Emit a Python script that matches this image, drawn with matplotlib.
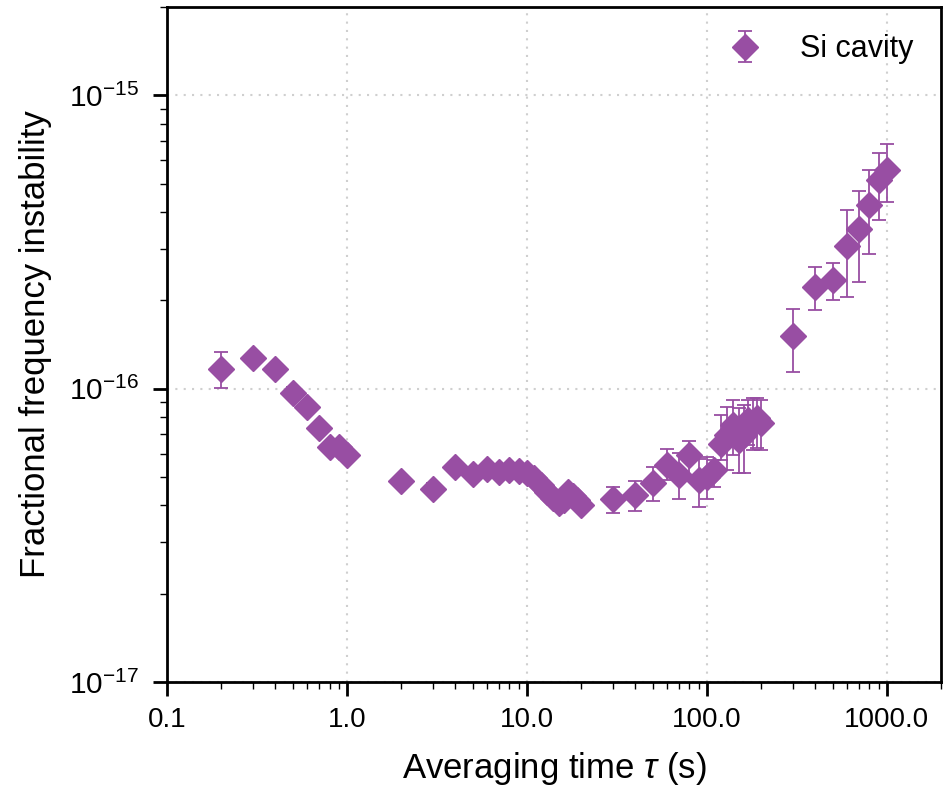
import numpy as np
import matplotlib
matplotlib.use("Agg")
import matplotlib.pyplot as plt
from matplotlib.ticker import LogLocator, FixedLocator, FixedFormatter, NullFormatter

plt.rcParams['font.family'] = ['Liberation Sans', 'DejaVu Sans']
plt.rcParams['mathtext.fontset'] = 'custom'
plt.rcParams['mathtext.rm'] = 'Liberation Sans'
plt.rcParams['mathtext.it'] = 'Liberation Sans:italic'

# averaging time (s)
tau = [0.2, 0.3, 0.4, 0.5, 0.6, 0.7, 0.8, 0.9, 1.0,
       2, 3, 4, 5, 6, 7, 8, 9, 10, 11, 12, 13, 14, 15, 16, 17, 18, 19, 20,
       30, 40, 50, 60, 70, 80, 90, 100, 110, 120, 130, 140, 150, 160, 170, 180, 190, 200,
       300, 400, 500, 600, 700, 800, 900, 1000]

# fractional frequency instability, units of 1e-17
adev = [11.65, 12.7, 11.65, 9.68, 8.63, 7.32, 6.34, 6.3, 5.94,
        4.85, 4.55, 5.41, 5.1, 5.31, 5.2, 5.28, 5.24, 5.15, 4.95, 4.69, 4.44, 4.24, 4.07, 4.17, 4.44, 4.3, 4.17, 4.01,
        4.19, 4.34, 4.75, 5.49, 5.07, 5.93, 4.88, 5.0, 5.28, 6.5, 6.94, 7.51, 6.68, 6.94, 7.81, 7.63, 7.94, 7.61,
        15.1, 22.2, 23.4, 30.6, 34.9, 42.2, 51.3, 55.5]

# error bar lower / upper ends, units of 1e-17
adev_lo = [10.04, 12.2, 11.2, 9.3, 8.3, 7.0, 6.1, 6.05, 5.7,
           4.65, 4.35, 5.2, 4.9, 5.1, 5.0, 5.05, 5.0, 4.95, 4.75, 4.5, 4.25, 4.05, 3.9, 4.0, 4.25, 4.1, 4.0, 3.85,
           3.76, 3.83, 4.13, 4.88, 4.2, 5.07, 3.94, 4.2, 4.63, 5.7, 5.28, 5.93, 5.14, 5.14, 6.42, 6.17, 6.27, 6.17,
           11.4, 18.5, 20.0, 20.5, 23.1, 28.7, 37.7, 43.3]
adev_hi = [13.3, 13.2, 12.1, 10.1, 8.95, 7.6, 6.6, 6.55, 6.2,
           5.05, 4.75, 5.6, 5.3, 5.5, 5.4, 5.5, 5.45, 5.35, 5.15, 4.9, 4.6, 4.4, 4.25, 4.35, 4.6, 4.5, 4.35, 4.2,
           4.61, 4.85, 5.41, 6.21, 6.03, 6.63, 5.75, 5.83, 5.7, 8.12, 8.67, 9.14, 8.6, 8.8, 9.14, 9.28, 9.28, 9.14,
           18.7, 26.0, 26.9, 40.6, 47.2, 55.5, 63.8, 68.1]

xticks = [0.1, 1.0, 10.0, 100.0, 1000.0]
xticklabels = ['0.1', '1.0', '10.0', '100.0', '1000.0']
yticks = [1e-17, 1e-16, 1e-15]
yticklabels = [r'$\mathdefault{10^{-17}}$', r'$\mathdefault{10^{-16}}$', r'$\mathdefault{10^{-15}}$']

y = np.array(adev) * 1e-17
lo = np.array(adev_lo) * 1e-17
hi = np.array(adev_hi) * 1e-17

fig = plt.figure(figsize=(9.43, 7.92), dpi=100)
ax = fig.add_axes([0.1771, 0.1389, 0.8208, 0.8523])

color = '#984ea3'
ax.errorbar(tau, y, yerr=[y - lo, hi - y], fmt='D', ms=13, color=color,
            ecolor=color, elinewidth=1.3, capsize=5, capthick=1.3,
            label='Si cavity', zorder=3)

ax.set_xscale('log')
ax.set_yscale('log')
ax.set_xlim(0.1, 2000)
ax.set_ylim(1e-17, 2e-15)

ax.xaxis.set_major_locator(FixedLocator(xticks))
ax.xaxis.set_major_formatter(FixedFormatter(xticklabels))
ax.xaxis.set_minor_locator(LogLocator(base=10, subs=np.arange(2, 10)))
ax.xaxis.set_minor_formatter(NullFormatter())
ax.yaxis.set_major_locator(FixedLocator(yticks))
ax.yaxis.set_major_formatter(FixedFormatter(yticklabels))
ax.yaxis.set_minor_locator(LogLocator(base=10, subs=np.arange(2, 10)))
ax.yaxis.set_minor_formatter(NullFormatter())

ax.tick_params(which='major', direction='out', length=10, width=2)
ax.tick_params(axis='x', which='major', labelsize=20, pad=8)
ax.tick_params(axis='y', which='major', labelsize=21.5, pad=10)
ax.tick_params(which='minor', direction='out', length=5, width=1)
for s in ax.spines.values():
    s.set_linewidth(2)

ax.grid(True, which='major', linestyle=(0, (1, 3)), color='#cfcfcf', linewidth=1.5)

ax.set_xlabel(r'Averaging time $\tau$ (s)', fontsize=25, labelpad=12)
ax.set_ylabel('Fractional frequency instability', fontsize=25, labelpad=12)

ax.legend(loc='upper right', frameon=False, fontsize=22)

fig.savefig('out.png', dpi=100)
